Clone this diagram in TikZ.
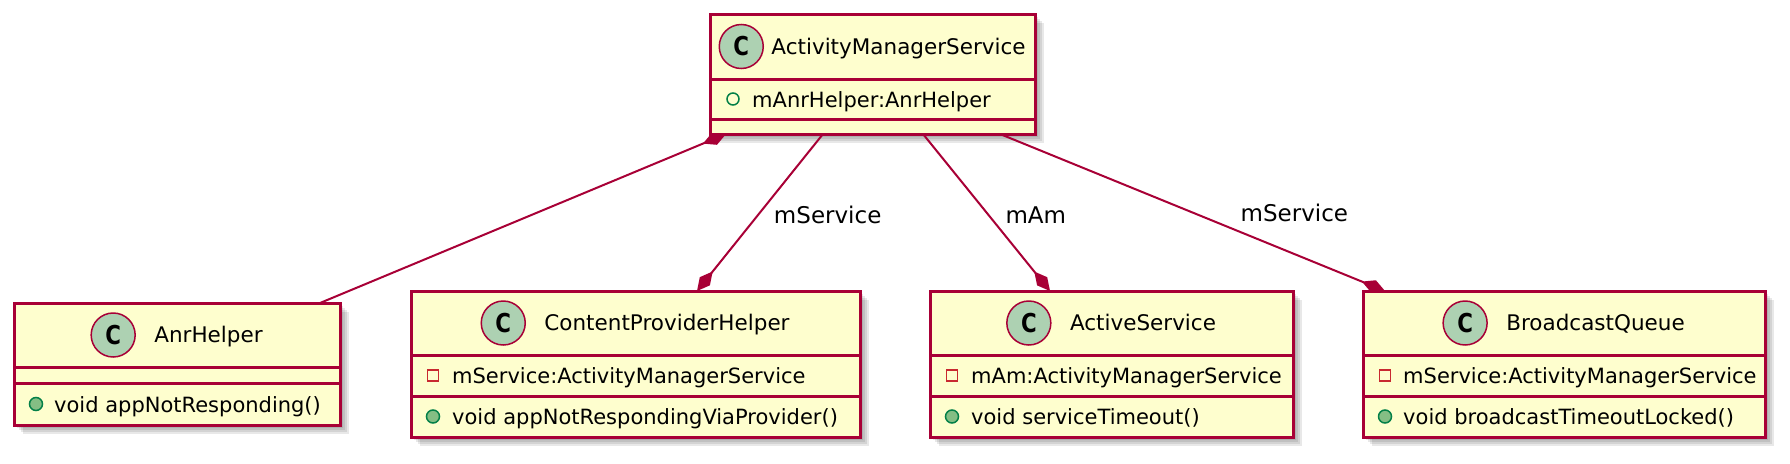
\documentclass[tikz,border=0pt]{standalone}
\usepackage{fontspec}
\setmainfont{DejaVu Sans}
\usetikzlibrary{calc,arrows.meta}
\definecolor{umlborder}{HTML}{A80036}
\definecolor{umlfill}{HTML}{FEFECE}
\definecolor{umlcircle}{HTML}{ADD1B2}
\definecolor{pubgreen}{HTML}{038048}
\definecolor{pubfill}{HTML}{84BE84}
\definecolor{privred}{HTML}{C82930}
\pgfdeclarelayer{shadowlayer}
\pgfdeclarelayer{linelayer}
\pgfsetlayers{shadowlayer,linelayer,main}
\begin{document}
\begin{tikzpicture}[x=1pt,y=-1pt,
  box/.style={draw=umlborder, fill=umlfill, line width=3pt, inner sep=0pt, outer sep=0pt, anchor=north west},
  divider/.style={draw=umlborder, line width=3pt},
  ctitle/.style={inner sep=0pt, anchor=base, font=\fontsize{21.5}{24}\selectfont},
  member/.style={inner sep=0pt, anchor=base west, font=\fontsize{21}{24}\selectfont},
  classcircle/.style={circle, draw=umlborder, fill=umlcircle, line width=1.5pt, minimum size=44pt, inner sep=0pt, font=\fontsize{26}{26}\selectfont\bfseries},
  privfield/.style={rectangle, draw=privred, line width=1.5pt, minimum size=11pt, inner sep=0pt},
  pubfield/.style={circle, draw=pubgreen, line width=1.5pt, minimum size=12pt, inner sep=0pt},
  pubmethod/.style={circle, draw=pubgreen, fill=pubfill, line width=1.5pt, minimum size=13pt, inner sep=0pt},
  assoc/.style={draw=umlborder, line width=2pt},
  compo/.style={-{Diamond[length=25pt,width=13pt]}},
  elabel/.style={font=\fontsize{23}{26}\selectfont, inner sep=0pt, anchor=west}
]
\useasboundingbox (0,0) rectangle (1790,463);

% boxes
\node[box, minimum width=325pt, minimum height=120pt] (ams) at (710,14) {};
\node[box, minimum width=326pt, minimum height=122pt] (anr) at (14,303) {};
\node[box, minimum width=449pt, minimum height=146pt] (cph) at (411,291) {};
\node[box, minimum width=363pt, minimum height=146pt] (acts) at (930,291) {};
\node[box, minimum width=402pt, minimum height=146pt] (bq) at (1363,291) {};

% shadows
\begin{pgfonlayer}{shadowlayer}
\foreach \n in {ams,anr,cph,acts,bq}{
  \foreach \d in {3,5,7,9}{
    \fill[black, opacity=0.09] ([shift={(\d,\d)}]\n.north west) rectangle ([shift={(\d,\d)}]\n.south east);
  }
}
\end{pgfonlayer}

% dividers
\draw[divider] ([shift={(0,65)}]ams.north west) -- ([shift={(0,65)}]ams.north east);
\draw[divider] ([shift={(0,105)}]ams.north west) -- ([shift={(0,105)}]ams.north east);
\draw[divider] ([shift={(0,64)}]anr.north west) -- ([shift={(0,64)}]anr.north east);
\draw[divider] ([shift={(0,80)}]anr.north west) -- ([shift={(0,80)}]anr.north east);
\foreach \n in {cph,acts,bq}{
  \draw[divider] ([shift={(0,64)}]\n.north west) -- ([shift={(0,64)}]\n.north east);
  \draw[divider] ([shift={(0,105)}]\n.north west) -- ([shift={(0,105)}]\n.north east);
}

% headers
\coordinate (amsH) at ([shift={(0,32.5)}]ams.north);
\node[ctitle] (amsT) at ([shift={(26,7.8)}]amsH) {ActivityManagerService};
\coordinate (amsCx) at ([xshift=-30pt]amsT.base west);
\node[classcircle] (amsC) at (amsCx |- amsH) {\scalebox{0.82}[1]{C}};

\coordinate (anrH) at ([shift={(0,32)}]anr.north);
\node[ctitle] (anrT) at ([shift={(31.5,7.8)}]anrH) {AnrHelper};
\coordinate (anrCx) at ([xshift=-41pt]anrT.base west);
\node[classcircle] (anrC) at (anrCx |- anrH) {\scalebox{0.82}[1]{C}};

\coordinate (cphH) at ([shift={(0,32)}]cph.north);
\node[ctitle] (cphT) at ([shift={(31.5,7.8)}]cphH) {ContentProviderHelper};
\coordinate (cphCx) at ([xshift=-41pt]cphT.base west);
\node[classcircle] (cphC) at (cphCx |- cphH) {\scalebox{0.82}[1]{C}};

\coordinate (actsH) at ([shift={(0,32)}]acts.north);
\node[ctitle] (actsT) at ([shift={(31.5,7.8)}]actsH) {ActiveService};
\coordinate (actsCx) at ([xshift=-41pt]actsT.base west);
\node[classcircle] (actsC) at (actsCx |- actsH) {\scalebox{0.82}[1]{C}};

\coordinate (bqH) at ([shift={(0,32)}]bq.north);
\node[ctitle] (bqT) at ([shift={(31.5,7.8)}]bqH) {BroadcastQueue};
\coordinate (bqCx) at ([xshift=-41pt]bqT.base west);
\node[classcircle] (bqC) at (bqCx |- bqH) {\scalebox{0.82}[1]{C}};

% members
\node[pubfield] (amsF1m) at ([shift={(23,85)}]ams.north west) {};
\node[member] (amsF1) at ([shift={(42,93)}]ams.north west) {mAnrHelper:AnrHelper};

\node[pubmethod] (anrM1m) at ([shift={(22,101)}]anr.north west) {};
\node[member] (anrM1) at ([shift={(40,109)}]anr.north west) {void appNotResponding()};

\node[privfield] (cphF1m) at ([shift={(22,84.5)}]cph.north west) {};
\node[member] (cphF1) at ([shift={(41,92.5)}]cph.north west) {mService:ActivityManagerService};
\node[pubmethod] (cphM1m) at ([shift={(22,125.5)}]cph.north west) {};
\node[member] (cphM1) at ([shift={(41,133.5)}]cph.north west) {void appNotRespondingViaProvider()};

\node[privfield] (actsF1m) at ([shift={(22,84.5)}]acts.north west) {};
\node[member] (actsF1) at ([shift={(41,92.5)}]acts.north west) {mAm:ActivityManagerService};
\node[pubmethod] (actsM1m) at ([shift={(22,125.5)}]acts.north west) {};
\node[member] (actsM1) at ([shift={(41,133.5)}]acts.north west) {void serviceTimeout()};

\node[privfield] (bqF1m) at ([shift={(22,84.5)}]bq.north west) {};
\node[member] (bqF1) at ([shift={(40,92.5)}]bq.north west) {mService:ActivityManagerService};
\node[pubmethod] (bqM1m) at ([shift={(22,125.5)}]bq.north west) {};
\node[member] (bqM1) at ([shift={(40,133.5)}]bq.north west) {void broadcastTimeoutLocked()};

% connector end points
\coordinate (amsP1) at ([shift={(16,0)}]ams.south west);
\coordinate (amsP2) at ([shift={(113,0)}]ams.south west);
\coordinate (amsP3) at ([shift={(213,0)}]ams.south west);
\coordinate (amsP4) at ([shift={(290,0)}]ams.south west);
\coordinate (anrP) at ([shift={(306,0)}]anr.north west);
\coordinate (cphP) at ([shift={(286,0)}]cph.north west);
\coordinate (actsP) at ([shift={(120,0)}]acts.north west);
\coordinate (bqP) at ([shift={(22,0)}]bq.north west);

\begin{pgfonlayer}{linelayer}
\draw[assoc, compo] (anrP) -- (amsP1);
\draw[assoc, compo] (amsP2) -- (cphP) node[elabel, pos=0.516, xshift=15pt] {mService};
\draw[assoc, compo] (amsP3) -- (actsP) node[elabel, pos=0.516, xshift=16pt] {mAm};
\draw[assoc, compo] (amsP4) -- (bqP) node[elabel, pos=0.503, xshift=46pt] {mService};
\end{pgfonlayer}
\end{tikzpicture}
\end{document}
